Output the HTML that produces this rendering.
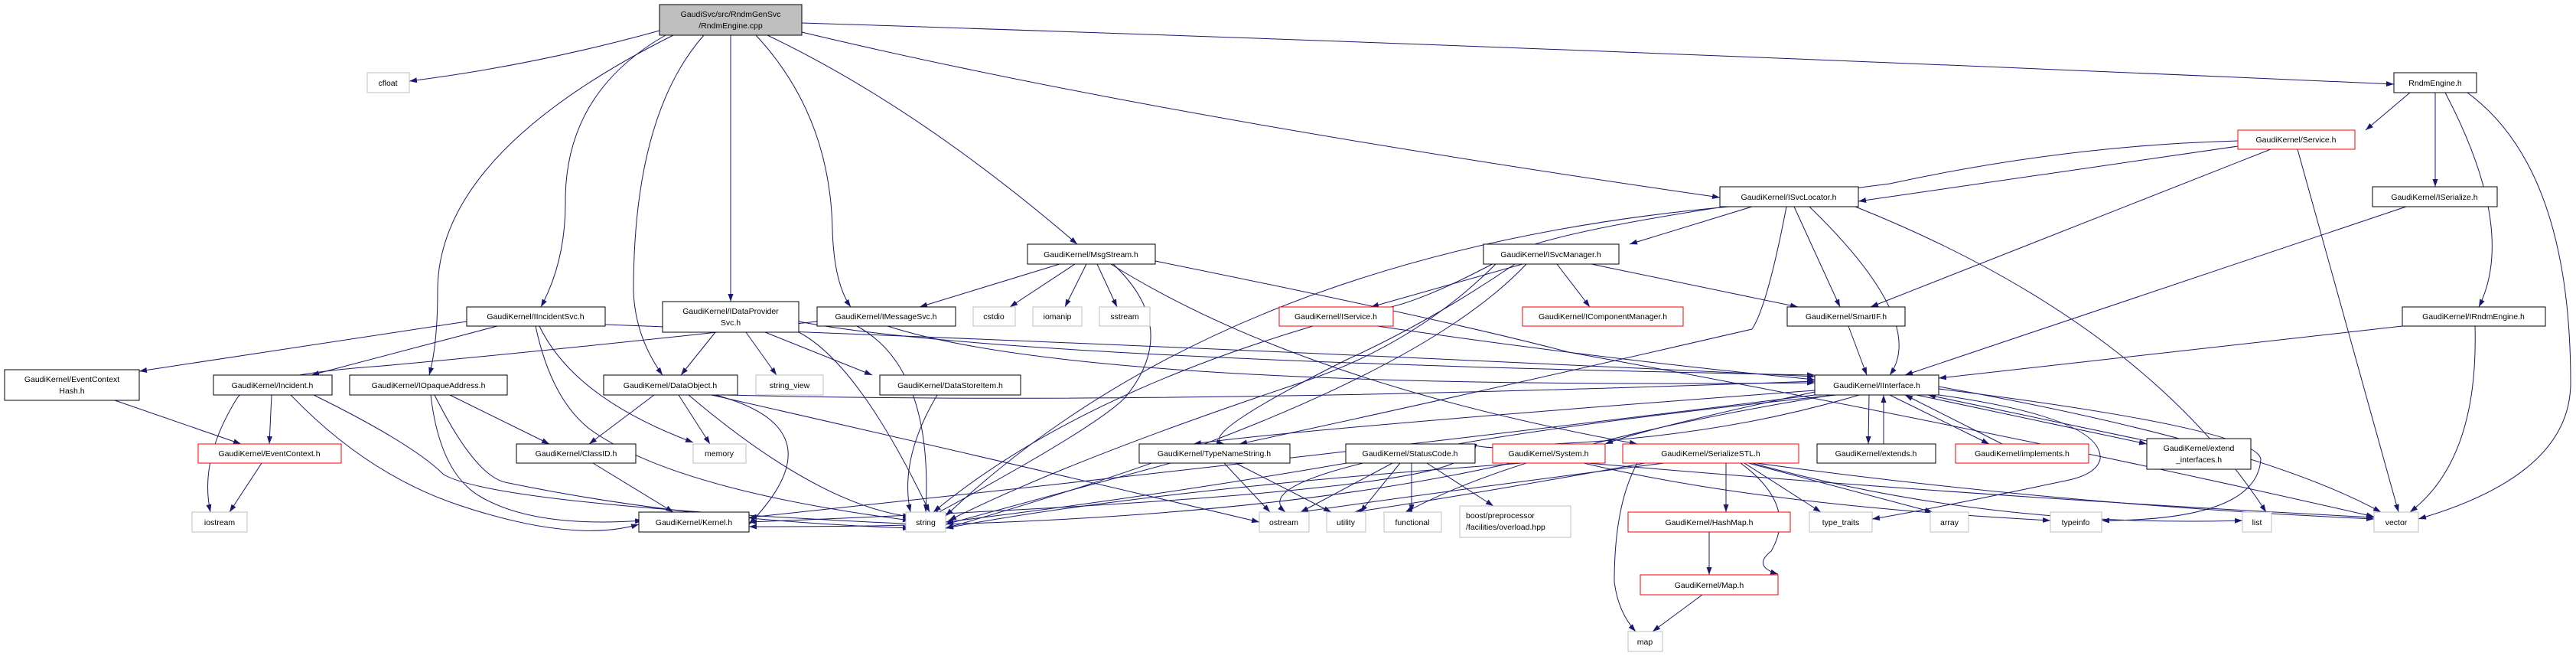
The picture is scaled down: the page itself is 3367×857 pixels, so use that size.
<!DOCTYPE html>
<html><head><meta charset="utf-8"><style>
html,body{margin:0;padding:0;background:#fff}
svg{display:block}
text{font-family:"Liberation Sans",sans-serif;font-size:10.5px;fill:#000}
.n{fill:#fff;stroke:#000;stroke-width:1}
.g{fill:#fff;stroke:#bfbfbf;stroke-width:1}
.r{fill:#fff;stroke:#ff0000;stroke-width:1}
path.e{fill:none;stroke:#191970;stroke-width:1}
</style></head><body>
<svg width="3367" height="857" viewBox="0 0 3367 857" xmlns="http://www.w3.org/2000/svg">
<defs><marker id="a" viewBox="0 0 10 10" refX="10" refY="5" markerWidth="10" markerHeight="10" markerUnits="userSpaceOnUse" orient="auto"><path d="M0,1.5 L10,5 L0,8.5 z" fill="#191970"/></marker></defs>
<g marker-end="url(#a)">
<!-- root edges -->
<path class="e" d="M862,40 Q700,85 535,106"/>
<path class="e" d="M870,46 Q740,120 739,260 Q740,340 707,401"/>
<path class="e" d="M880,46 Q572,200 572,380 Q572,450 561,490"/>
<path class="e" d="M920,46 Q828,150 828,380 Q830,440 866,490"/>
<path class="e" d="M955,46 L955,394"/>
<path class="e" d="M988,46 Q1085,150 1088,300 Q1090,370 1112,401"/>
<path class="e" d="M1003,46 Q1200,140 1408,319"/>
<path class="e" d="M1048,42 Q1500,150 2248,258"/>
<path class="e" d="M1048,30 Q2000,60 3129,110"/>
<!-- RndmEngine.h -->
<path class="e" d="M3150,121 L3092,170"/>
<path class="e" d="M3183,121 L3183,244"/>
<path class="e" d="M3196,121 Q3290,300 3240,401"/>
<path class="e" d="M3225,121 Q3360,220 3360,500 Q3360,620 3161,678"/>
<!-- Service.h -->
<path class="e" d="M2925,184 Q2700,190 2470,240 Q2000,300 1960,340 Q1810,420 1773,401"/>
<path class="e" d="M2925,191 L2429,263"/>
<path class="e" d="M2968,195 L2445,401"/>
<path class="e" d="M3003,195 L3135,669"/>
<!-- ISvcLocator -->
<path class="e" d="M2290,270 L2130,319"/>
<path class="e" d="M2345,270 L2405,401"/>
<path class="e" d="M2365,270 Q2520,420 2470,490"/>
<path class="e" d="M2425,270 Q2800,420 2962,669"/>
<path class="e" d="M2335,270 Q2310,400 2290,430 Q1900,520 1620,580"/>
<path class="e" d="M2260,270 Q1600,330 1236,674"/>
<!-- ISvcManager -->
<path class="e" d="M1990,345 L1792,401"/>
<path class="e" d="M2035,345 L2078,401"/>
<path class="e" d="M2080,345 L2350,401"/>
<path class="e" d="M1980,345 Q1870,420 1760,470 Q1560,570 1600,580"/>
<path class="e" d="M1955,345 Q1850,450 1700,500 Q1400,600 1240,680"/>
<path class="e" d="M1995,345 Q1830,520 1236,690"/>
<!-- MsgStream -->
<path class="e" d="M1385,345 L1202,401"/>
<path class="e" d="M1405,345 L1320,401"/>
<path class="e" d="M1420,345 L1392,401"/>
<path class="e" d="M1434,345 L1460,401"/>
<path class="e" d="M1455,345 Q1545,430 1470,520 Q1430,560 1218,674"/>
<path class="e" d="M1452,345 Q1700,500 2140,580"/>
<path class="e" d="M1510,341 Q1900,420 2050,460 Q2600,560 3103,675"/>
<!-- IMessageSvc -->
<path class="e" d="M1160,426 Q1420,510 2372,500"/>
<path class="e" d="M1120,426 Q1220,480 1210,669"/>
<path class="e" d="M1068,420 Q700,460 500,478 Q330,490 310,520 Q260,600 275,669"/>
<!-- IService -->
<path class="e" d="M1716,426 Q1400,520 1220,669"/>
<path class="e" d="M1800,426 Q2100,470 2372,496"/>
<!-- SmartIF, ISerialize, IRndmEngine -->
<path class="e" d="M2416,426 L2440,490"/>
<path class="e" d="M3145,270 L2490,490"/>
<path class="e" d="M3140,426 L2534,494"/>
<path class="e" d="M3235,426 Q3240,600 3150,669"/>
<!-- IIncidentSvc -->
<path class="e" d="M610,420 L182,485"/>
<path class="e" d="M650,426 L407,490"/>
<path class="e" d="M700,426 Q720,520 770,560 Q880,640 1190,680"/>
<path class="e" d="M705,426 Q750,520 906,578"/>
<path class="e" d="M790,424 Q1500,450 2372,492"/>
<!-- IDataProviderSvc -->
<path class="e" d="M935,434 L890,490"/>
<path class="e" d="M975,434 L1015,490"/>
<path class="e" d="M1000,434 L1140,490"/>
<path class="e" d="M1040,432 Q1120,470 1215,669"/>
<path class="e" d="M1044,420 Q1300,470 2372,490"/>
<!-- DataStoreItem -->
<path class="e" d="M1225,516 Q1175,600 1190,669"/>
<!-- EventContextHash, Incident, EventContext -->
<path class="e" d="M150,523 L315,580"/>
<path class="e" d="M355,516 L352,580"/>
<path class="e" d="M380,516 Q480,620 600,660 Q750,710 835,685"/>
<path class="e" d="M410,516 Q540,580 580,620 Q650,660 1200,685"/>
<path class="e" d="M342,605 L300,669"/>
<!-- IOpaqueAddress -->
<path class="e" d="M588,516 L718,580"/>
<path class="e" d="M563,516 Q575,620 630,650 Q700,690 840,680"/>
<path class="e" d="M568,516 Q620,620 660,630 Q900,680 1190,690"/>
<!-- DataObject -->
<path class="e" d="M855,516 L770,580"/>
<path class="e" d="M887,516 L928,580"/>
<path class="e" d="M900,516 Q1070,660 1190,675"/>
<path class="e" d="M930,516 Q1300,600 1646,682"/>
<path class="e" d="M935,516 Q1100,560 979,685"/>
<path class="e" d="M950,516 Q1500,530 2372,498"/>
<!-- ClassID -->
<path class="e" d="M775,605 L880,669"/>
<!-- TypeNameString -->
<path class="e" d="M1530,605 L1236,685"/>
<path class="e" d="M1600,605 L1660,669"/>
<path class="e" d="M1615,605 L1740,669"/>
<!-- StatusCode -->
<path class="e" d="M1760,605 Q1500,650 1236,682"/>
<path class="e" d="M1820,605 L1700,669"/>
<path class="e" d="M1830,605 L1778,669"/>
<path class="e" d="M1845,605 L1845,669"/>
<path class="e" d="M1865,605 L1952,661"/>
<path class="e" d="M1900,605 Q1800,650 979,682"/>
<!-- System -->
<path class="e" d="M1975,605 Q1600,690 979,688"/>
<path class="e" d="M1990,605 Q1500,640 1236,690"/>
<path class="e" d="M2070,605 Q2300,660 2680,680"/>
<path class="e" d="M2075,605 Q2600,650 3103,676"/>
<!-- SerializeSTL -->
<path class="e" d="M2175,605 Q1900,640 1700,669"/>
<path class="e" d="M2150,605 Q1900,650 1770,669"/>
<path class="e" d="M2256,605 L2256,669"/>
<path class="e" d="M2275,605 Q2350,660 2315,720 Q2290,740 2324,750"/>
<path class="e" d="M2280,605 L2380,669"/>
<path class="e" d="M2285,605 L2526,669"/>
<path class="e" d="M2290,605 Q2600,690 2931,680"/>
<path class="e" d="M2295,605 Q2700,660 3103,678"/>
<path class="e" d="M2140,605 Q2110,660 2110,760 Q2115,800 2138,825"/>
<!-- IInterface children -->
<path class="e" d="M2443,516 L2442,580"/>
<path class="e" d="M2462,580 L2462,516"/>
<path class="e" d="M2470,516 L2600,580"/>
<path class="e" d="M2617,580 L2490,516"/>
<path class="e" d="M2505,516 L2806,580"/>
<path class="e" d="M2806,576 L2520,516"/>
<path class="e" d="M2520,514 Q2750,545 2745,600 Q2740,620 2700,628 Q2500,670 2447,678"/>
<path class="e" d="M2534,508 Q2950,560 2955,600 Q2950,680 2747,680"/>
<path class="e" d="M2534,505 Q2950,580 3112,669"/>
<path class="e" d="M2430,516 Q2250,570 2030,580 Q1950,590 1920,580"/>
<path class="e" d="M2372,512 Q2150,560 2098,580"/>
<path class="e" d="M2395,516 Q2000,580 1836,670"/>
<path class="e" d="M2372,510 Q1700,560 1560,580"/>
<path class="e" d="M2400,516 Q1600,600 1680,669"/>
<path class="e" d="M2372,516 Q1700,600 979,676"/>
<!-- HashMap, Map -->
<path class="e" d="M2234,695 L2234,751"/>
<path class="e" d="M2225,777 L2160,825"/>
</g>
<!-- nodes -->
<rect class="n" x="862" y="6" width="186" height="40" style="fill:#bfbfbf"/>
<text x="955" y="22" text-anchor="middle">GaudiSvc/src/RndmGenSvc</text><text x="955" y="37" text-anchor="middle">/RndmEngine.cpp</text>
<rect class="g" x="480" y="95" width="55" height="26"/><text x="507" y="112" text-anchor="middle">cfloat</text>
<rect class="n" x="3129" y="95" width="108" height="26"/><text x="3183" y="112" text-anchor="middle">RndmEngine.h</text>
<rect class="r" x="2925" y="170" width="153" height="25"/><text x="3001" y="186" text-anchor="middle">GaudiKernel/Service.h</text>
<rect class="n" x="2248" y="244" width="181" height="26"/><text x="2338" y="261" text-anchor="middle">GaudiKernel/ISvcLocator.h</text>
<rect class="n" x="3101" y="244" width="163" height="26"/><text x="3182" y="261" text-anchor="middle">GaudiKernel/ISerialize.h</text>
<rect class="n" x="1343" y="319" width="167" height="26"/><text x="1426" y="336" text-anchor="middle">GaudiKernel/MsgStream.h</text>
<rect class="n" x="1939" y="319" width="177" height="26"/><text x="2027" y="336" text-anchor="middle">GaudiKernel/ISvcManager.h</text>
<rect class="n" x="610" y="401" width="181" height="25"/><text x="700" y="417" text-anchor="middle">GaudiKernel/IIncidentSvc.h</text>
<rect class="n" x="866" y="394" width="178" height="40"/><text x="955" y="410" text-anchor="middle">GaudiKernel/IDataProvider</text><text x="955" y="425" text-anchor="middle">Svc.h</text>
<rect class="n" x="1068" y="401" width="181" height="25"/><text x="1158" y="417" text-anchor="middle">GaudiKernel/IMessageSvc.h</text>
<rect class="g" x="1272" y="401" width="55" height="25"/><text x="1299" y="417" text-anchor="middle">cstdio</text>
<rect class="g" x="1350" y="401" width="64" height="25"/><text x="1382" y="417" text-anchor="middle">iomanip</text>
<rect class="g" x="1437" y="401" width="66" height="25"/><text x="1470" y="417" text-anchor="middle">sstream</text>
<rect class="r" x="1672" y="401" width="149" height="25"/><text x="1746" y="417" text-anchor="middle">GaudiKernel/IService.h</text>
<rect class="r" x="1990" y="401" width="210" height="25"/><text x="2095" y="417" text-anchor="middle">GaudiKernel/IComponentManager.h</text>
<rect class="n" x="2336" y="401" width="154" height="25"/><text x="2413" y="417" text-anchor="middle">GaudiKernel/SmartIF.h</text>
<rect class="n" x="3140" y="401" width="187" height="25"/><text x="3233" y="417" text-anchor="middle">GaudiKernel/IRndmEngine.h</text>
<rect class="n" x="6" y="483" width="176" height="40"/><text x="94" y="499" text-anchor="middle">GaudiKernel/EventContext</text><text x="94" y="514" text-anchor="middle">Hash.h</text>
<rect class="n" x="279" y="490" width="155" height="26"/><text x="356" y="507" text-anchor="middle">GaudiKernel/Incident.h</text>
<rect class="n" x="457" y="490" width="206" height="26"/><text x="560" y="507" text-anchor="middle">GaudiKernel/IOpaqueAddress.h</text>
<rect class="n" x="789" y="490" width="175" height="26"/><text x="876" y="507" text-anchor="middle">GaudiKernel/DataObject.h</text>
<rect class="g" x="988" y="490" width="88" height="26"/><text x="1032" y="507" text-anchor="middle">string_view</text>
<rect class="n" x="1150" y="490" width="184" height="26"/><text x="1242" y="507" text-anchor="middle">GaudiKernel/DataStoreItem.h</text>
<rect class="n" x="2372" y="490" width="162" height="26"/><text x="2453" y="507" text-anchor="middle">GaudiKernel/IInterface.h</text>
<rect class="r" x="259" y="580" width="187" height="25"/><text x="352" y="596" text-anchor="middle">GaudiKernel/EventContext.h</text>
<rect class="n" x="675" y="580" width="156" height="25"/><text x="753" y="596" text-anchor="middle">GaudiKernel/ClassID.h</text>
<rect class="g" x="906" y="580" width="69" height="25"/><text x="940" y="596" text-anchor="middle">memory</text>
<rect class="n" x="1489" y="580" width="197" height="25"/><text x="1587" y="596" text-anchor="middle">GaudiKernel/TypeNameString.h</text>
<rect class="n" x="1759" y="580" width="169" height="25"/><text x="1843" y="596" text-anchor="middle">GaudiKernel/StatusCode.h</text>
<rect class="r" x="1951" y="580" width="147" height="25"/><text x="2024" y="596" text-anchor="middle">GaudiKernel/System.h</text>
<rect class="r" x="2121" y="580" width="230" height="25"/><text x="2236" y="596" text-anchor="middle">GaudiKernel/SerializeSTL.h</text>
<rect class="n" x="2375" y="580" width="155" height="25"/><text x="2452" y="596" text-anchor="middle">GaudiKernel/extends.h</text>
<rect class="r" x="2556" y="580" width="174" height="25"/><text x="2643" y="596" text-anchor="middle">GaudiKernel/implements.h</text>
<rect class="n" x="2806" y="573" width="136" height="40"/><text x="2874" y="589" text-anchor="middle">GaudiKernel/extend</text><text x="2874" y="604" text-anchor="middle">_interfaces.h</text>
<rect class="g" x="251" y="669" width="72" height="26"/><text x="287" y="686" text-anchor="middle">iostream</text>
<rect class="n" x="835" y="669" width="144" height="26"/><text x="907" y="686" text-anchor="middle">GaudiKernel/Kernel.h</text>
<rect class="g" x="1184" y="669" width="52" height="26"/><text x="1210" y="686" text-anchor="middle">string</text>
<rect class="g" x="1646" y="669" width="65" height="26"/><text x="1678" y="686" text-anchor="middle">ostream</text>
<rect class="g" x="1734" y="669" width="51" height="26"/><text x="1759" y="686" text-anchor="middle">utility</text>
<rect class="g" x="1809" y="669" width="75" height="26"/><text x="1846" y="686" text-anchor="middle">functional</text>
<rect class="g" x="1908" y="661" width="145" height="41"/><text x="1916" y="677">boost/preprocessor</text><text x="1916" y="692">/facilities/overload.hpp</text>
<rect class="r" x="2128" y="669" width="212" height="26"/><text x="2234" y="686" text-anchor="middle">GaudiKernel/HashMap.h</text>
<rect class="g" x="2365" y="669" width="82" height="26"/><text x="2406" y="686" text-anchor="middle">type_traits</text>
<rect class="g" x="2523" y="669" width="50" height="26"/><text x="2548" y="686" text-anchor="middle">array</text>
<rect class="g" x="2680" y="669" width="67" height="26"/><text x="2713" y="686" text-anchor="middle">typeinfo</text>
<rect class="g" x="2931" y="669" width="38" height="26"/><text x="2950" y="686" text-anchor="middle">list</text>
<rect class="g" x="3103" y="669" width="58" height="26"/><text x="3132" y="686" text-anchor="middle">vector</text>
<rect class="r" x="2144" y="751" width="180" height="26"/><text x="2234" y="768" text-anchor="middle">GaudiKernel/Map.h</text>
<rect class="g" x="2128" y="825" width="45" height="26"/><text x="2150" y="842" text-anchor="middle">map</text>
</svg>
</body></html>
